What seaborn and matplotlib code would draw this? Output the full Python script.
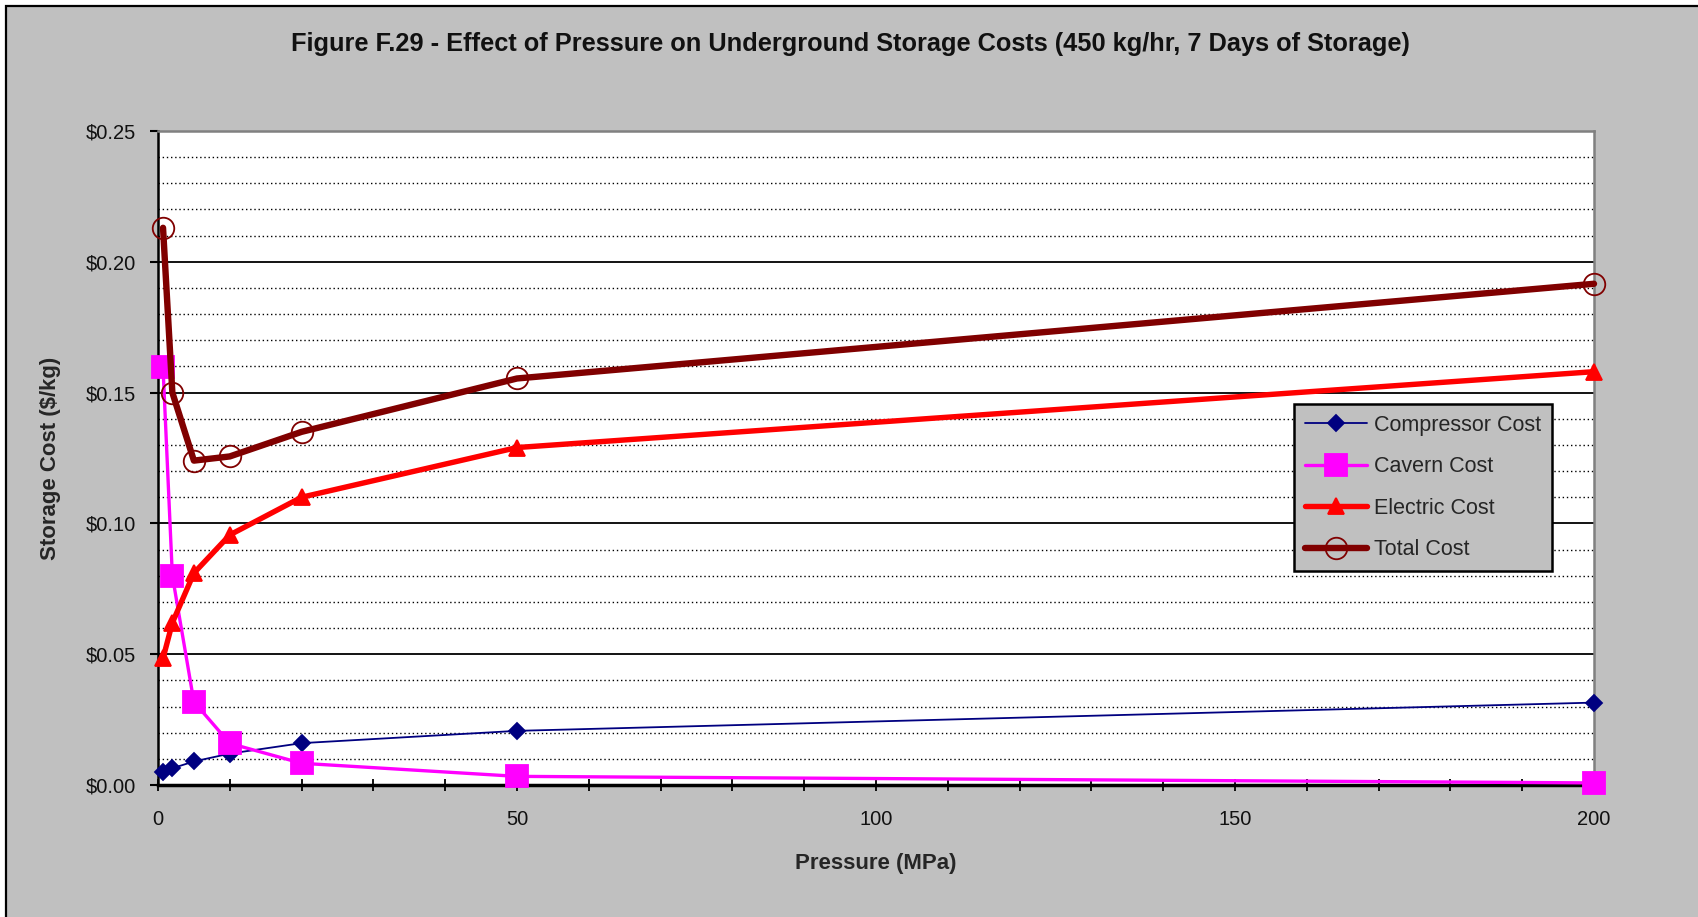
import numpy as np
import pandas as pd
import matplotlib
matplotlib.use("Agg")
import matplotlib.pyplot as plt
from matplotlib.patches import Rectangle
from matplotlib.ticker import MultipleLocator, FuncFormatter
import seaborn as sns

# Storage pressure (MPa)
pressure = [0.7, 2, 5, 10, 20, 50, 200]

# Levelized storage cost components ($/kg)
compressor_cost = [0.0048, 0.0064, 0.0090, 0.0120, 0.0160, 0.0207, 0.0315]
cavern_cost = [0.1596, 0.0800, 0.0318, 0.0159, 0.0083, 0.0033, 0.0008]
electric_cost = [0.0484, 0.0620, 0.0810, 0.0956, 0.1100, 0.1290, 0.1580]
total_cost = [0.2130, 0.1500, 0.1240, 0.1256, 0.1350, 0.1554, 0.1916]

series_names = ["Compressor Cost", "Cavern Cost", "Electric Cost", "Total Cost"]
y_ticks = [0.00, 0.05, 0.10, 0.15, 0.20, 0.25]
x_ticks = [0, 50, 100, 150, 200]

title = "Figure F.29 - Effect of Pressure on Underground Storage Costs (450 kg/hr, 7 Days of Storage)"

sns.set_theme(style="white")
plt.rcParams["font.family"] = ["Liberation Sans", "DejaVu Sans"]

W, H = 1698, 917
fig = plt.figure(figsize=(W / 100, H / 100), dpi=100)
fig.patch.set_facecolor("white")

# grey chart area with black frame
fig.patches.append(Rectangle((6 / W, -0.05), 1.2, 1 - 6 / H + 0.05,
                             transform=fig.transFigure, facecolor="#C0C0C0",
                             edgecolor="black", linewidth=1.6, zorder=-10))

left, right, top, bottom = 158, 1594, 131, 785
ax = fig.add_axes([left / W, 1 - bottom / H, (right - left) / W, (bottom - top) / H])
ax.set_facecolor("white")

df = pd.DataFrame({
    "Pressure": pressure * 4,
    "Cost": compressor_cost + cavern_cost + electric_cost + total_cost,
    "Series": sum([[n] * len(pressure) for n in series_names], []),
})

styles = {
    "Compressor Cost": dict(color="#000080", lw=1.3, marker="D", ms=8,
                            mfc="#000080", mec="#000080", z=3),
    "Cavern Cost": dict(color="#FF00FF", lw=2.4, marker="s", ms=16,
                        mfc="#FF00FF", mec="#FF00FF", z=4),
    "Electric Cost": dict(color="#FF0000", lw=3.9, marker="^", ms=11,
                          mfc="#FF0000", mec="#FF0000", z=5),
    "Total Cost": dict(color="#800000", lw=4.6, marker="o", ms=15.5,
                       mfc="none", mec="#800000", z=6),
}

for name in series_names:
    st = styles[name]
    sub = df[df["Series"] == name]
    sns.lineplot(data=sub, x="Pressure", y="Cost", ax=ax, color=st["color"],
                 linewidth=st["lw"], marker=st["marker"], markersize=st["ms"],
                 markerfacecolor=st["mfc"], markeredgecolor=st["mec"],
                 markeredgewidth=1.3, label=name, zorder=st["z"], clip_on=False,
                 estimator=None, sort=False)

ax.set_xlim(0, 200)
ax.set_ylim(0, 0.25)

ax.set_yticks(y_ticks)
ax.yaxis.set_minor_locator(MultipleLocator(0.01))
ax.yaxis.set_major_formatter(FuncFormatter(lambda v, p: f"${v:.2f}"))
ax.set_xticks(x_ticks)
ax.xaxis.set_minor_locator(MultipleLocator(10))

ax.grid(which="major", axis="y", color="black", linewidth=1.3, linestyle="-")
ax.grid(which="minor", axis="y", color="black", linewidth=1.0, linestyle=(0, (1, 2)))
ax.grid(which="both", axis="x", visible=False)
ax.set_axisbelow(True)

ax.tick_params(axis="y", which="major", direction="out", length=6, width=1.5,
               color="black", left=True, pad=10, labelsize=14.5, labelcolor="#111111")
ax.tick_params(axis="y", which="minor", left=False)
ax.tick_params(axis="x", which="both", direction="inout", length=8, width=1.3,
               color="black", bottom=True, pad=14, labelsize=14.5, labelcolor="#111111")

ax.spines["left"].set_color("black")
ax.spines["left"].set_linewidth(1.8)
ax.spines["bottom"].set_color("black")
ax.spines["bottom"].set_linewidth(2.5)
for s in ["top", "right"]:
    ax.spines[s].set_color("#808080")
    ax.spines[s].set_linewidth(1.8)
for s in ax.spines.values():
    s.set_zorder(2.5)

ax.set_xlabel("Pressure (MPa)", fontsize=16, fontweight="bold", va="center")
ax.xaxis.set_label_coords(0.5, -(863 - bottom) / (bottom - top))
ax.set_ylabel("Storage Cost ($/kg)", fontsize=16, fontweight="bold", va="center")
ax.yaxis.set_label_coords(-(left - 51) / (right - left), 0.5)

fig.text(850 / W, 1 - 44 / H, title, ha="center", va="center",
         fontsize=18.3, fontweight="bold", color="#111111")

leg = ax.legend(loc="upper left", bbox_to_anchor=(1294 / W, 1 - 404 / H),
                bbox_transform=fig.transFigure, frameon=True, fancybox=False,
                facecolor="#C0C0C0", edgecolor="black", framealpha=1,
                fontsize=15.5, handlelength=2.9, handletextpad=0.3,
                labelspacing=0.95, borderpad=0.5, borderaxespad=0)
leg.get_frame().set_linewidth(1.8)
leg.set_zorder(10)

fig.savefig("out.png", dpi=100, facecolor=fig.get_facecolor())
